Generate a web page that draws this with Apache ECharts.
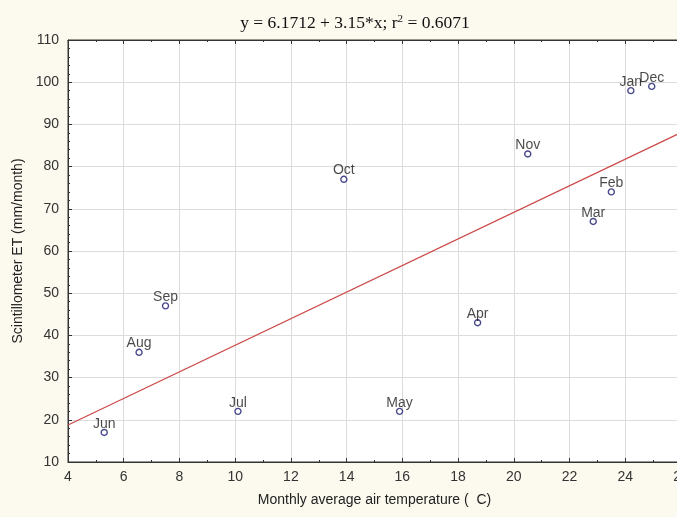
<!DOCTYPE html>
<html>
<head>
<meta charset="utf-8">
<script src="https://cdn.jsdelivr.net/npm/echarts@6/dist/echarts.min.js"></script>
<style>
  html, body { margin: 0; padding: 0; background: #fcf9ef; overflow: hidden; }
  #chart { width: 677px; height: 517px; }
</style>
</head>
<body>
<div id="chart"></div>
<script>
// Monthly values: air temperature (°C) vs scintillometer ET (mm/month)
var months = ['Jun', 'Aug', 'Sep', 'Jul', 'Oct', 'May', 'Apr', 'Nov', 'Mar', 'Feb', 'Jan', 'Dec'];
var temperature = [5.3, 6.55, 7.5, 10.1, 13.9, 15.9, 18.7, 20.5, 22.85, 23.5, 24.2, 24.95];
var et = [17, 36, 47, 22, 77, 22, 43, 83, 67, 74, 98, 99];

// Least-squares fit reported in the title
var intercept = 6.1712;
var slope = 3.15;
var rSquared = 0.6071;

var xTicks = { min: 4, max: 26, interval: 2 };
var yTicks = { min: 10, max: 110, interval: 10 };

var points = months.map(function (m, i) {
  return { name: m, value: [temperature[i], et[i]] };
});

var fitLine = [xTicks.min, xTicks.max].map(function (x) {
  return [x, intercept + slope * x];
});

var tickColor = '#333';
var font = 'Liberation Sans, Arial, sans-serif';

var chart = echarts.init(document.getElementById('chart'));
chart.setOption({
  backgroundColor: '#fcf9ef',
  animation: false,
  title: {
    text: 'y = ' + intercept + ' + ' + slope + '*x; r{sup|2} = ' + rSquared,
    left: 350,
    top: 9,
    textAlign: 'center',
    textStyle: {
      fontFamily: 'Liberation Serif, Times New Roman, serif',
      fontSize: 17.5,
      fontWeight: 'normal',
      color: '#111',
      rich: {
        sup: {
          fontFamily: 'Liberation Serif, Times New Roman, serif',
          fontSize: 11,
          color: '#111',
          verticalAlign: 'top',
          padding: [0, 0, 7, 0]
        }
      }
    }
  },
  grid: {
    left: 68,
    top: 40,
    width: 613,
    bottom: 55,
    outerBoundsMode: 'none',
    containLabel: false,
    show: true,
    backgroundColor: '#ffffff',
    borderColor: '#333',
    borderWidth: 1
  },
  xAxis: [
    {
      type: 'value',
      min: xTicks.min, max: xTicks.max, interval: xTicks.interval,
      name: 'Monthly average air temperature (  C)',
      nameLocation: 'middle',
      nameGap: 31,
      nameTextStyle: { fontFamily: font, fontSize: 14, color: '#222' },
      axisLine: { lineStyle: { color: tickColor } },
      axisTick: { inside: true, length: 4, lineStyle: { color: tickColor } },
      minorTick: { show: true, splitNumber: 2, length: 2, lineStyle: { color: tickColor } },
      axisLabel: { fontFamily: font, fontSize: 14, color: '#333', margin: 8 },
      splitLine: { lineStyle: { color: '#dcdcdc' } }
    },
    {
      type: 'value', position: 'top',
      min: xTicks.min, max: xTicks.max, interval: xTicks.interval,
      axisLine: { show: true, lineStyle: { color: tickColor } },
      axisTick: { inside: true, length: 4, lineStyle: { color: tickColor } },
      minorTick: { show: true, splitNumber: 2, length: 2, lineStyle: { color: tickColor } },
      axisLabel: { show: false },
      splitLine: { show: false }
    }
  ],
  yAxis: {
    type: 'value',
    min: yTicks.min, max: yTicks.max, interval: yTicks.interval,
    name: 'Scintillometer ET (mm/month)',
    nameLocation: 'middle',
    nameGap: 41,
    nameTextStyle: { fontFamily: font, fontSize: 14, color: '#222' },
    axisLine: { show: true, lineStyle: { color: tickColor } },
    axisTick: { inside: true, length: 4, lineStyle: { color: tickColor } },
    minorTick: { show: true, splitNumber: 5, length: 2, lineStyle: { color: tickColor } },
    axisLabel: { fontFamily: font, fontSize: 14, color: '#333', margin: 9 },
    splitLine: { lineStyle: { color: '#dcdcdc' } }
  },
  series: [
    {
      type: 'line',
      data: fitLine,
      showSymbol: false,
      lineStyle: { color: '#cc4a4a', width: 1.3 },
      z: 2
    },
    {
      type: 'scatter',
      data: points,
      symbol: 'circle',
      symbolSize: 6,
      itemStyle: { color: '#ffffff', borderColor: '#1a1a70', borderWidth: 1.4 },
      label: {
        show: true,
        formatter: '{b}',
        position: 'top',
        distance: -2,
        fontFamily: font,
        fontSize: 14,
        color: '#1a1a1a'
      },
      z: 3
    }
  ]
});
</script>
</body>
</html>
